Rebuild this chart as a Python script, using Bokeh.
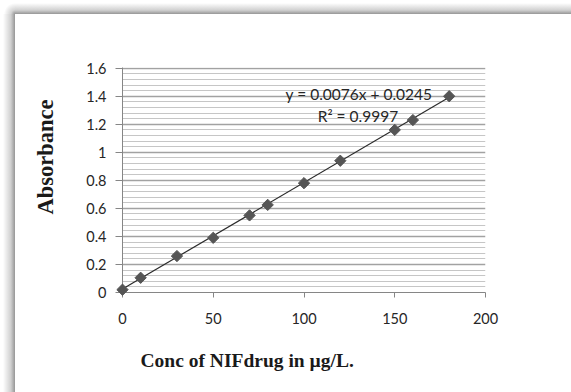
import numpy as np
from bokeh.plotting import figure
from bokeh.models import Range1d, FixedTicker, Label, Title
from bokeh.embed import file_html
from bokeh.resources import INLINE

# ---- data ----
conc = [0, 10, 30, 50, 70, 80, 100, 120, 150, 160, 180]
absorbance = [0.02, 0.105, 0.26, 0.39, 0.55, 0.625, 0.78, 0.94, 1.16, 1.23, 1.40]
slope = 0.0076
intercept = 0.0245
r_squared = 0.9997
x_ticks = [0, 50, 100, 150, 200]
y_ticks = [0, 0.2, 0.4, 0.6, 0.8, 1, 1.2, 1.4, 1.6]
y_tick_labels = ["0", "0.2", "0.4", "0.6", "0.8", "1", "1.2", "1.4", "1.6"]
y_minor_per_major = 5
x_label = "Conc of NIFdrug in  \u00b5g/L."
y_label = "Absorbance"
eq_text = "y = %.4fx + %.4f" % (slope, intercept)
r2_text = "R\u00b2 = %.4f" % r_squared

X0, X1 = x_ticks[0], x_ticks[-1]
Y0, Y1 = y_ticks[0], y_ticks[-1]

major_step = y_ticks[1] - y_ticks[0]
minor_vals = []
for i in range(len(y_ticks) - 1):
    for k in range(1, y_minor_per_major):
        minor_vals.append(round(y_ticks[i] + major_step * k / y_minor_per_major, 4))

p = figure(width=571, height=392, output_backend="svg", toolbar_location=None,
           x_range=Range1d(X0, X1), y_range=Range1d(Y0, Y1 + 0.005),
           min_border_left=122, min_border_right=86,
           min_border_top=67, min_border_bottom=100)
p.outline_line_color = None
p.background_fill_color = None
p.border_fill_color = None

# Excel-like chart-area frame with soft shadow (host element background)
shade = "rgba(140,140,140,0)"
dark = "rgb(150,150,150)"
p.styles = {
    "background-color": "white",
    "background-image": (
        "linear-gradient(to bottom, %s 0%%, rgba(170,170,170,0.55) 65%%, %s 100%%), "
        "linear-gradient(to right, %s 0%%, rgba(170,170,170,0.55) 65%%, %s 100%%), "
        "radial-gradient(circle at 100%% 100%%, %s 0px, rgba(170,170,170,0.5) 4px, %s 11px)"
    ) % (shade, dark, shade, dark, dark, shade),
    "background-position": "15px 3px, 3px 14px, 3px 3px",
    "background-size": "100% 11px, 12px 100%, 12px 11px",
    "background-repeat": "no-repeat",
}

p.xgrid.visible = False
p.yaxis.ticker = FixedTicker(ticks=y_ticks, minor_ticks=minor_vals)
p.xaxis.ticker = FixedTicker(ticks=x_ticks)
p.ygrid.grid_line_color = "#a2a2a2"
p.ygrid.grid_line_width = 1.3
p.ygrid.minor_grid_line_color = "#c6c6c6"
p.ygrid.minor_grid_line_width = 1

# trend line
tx = np.array([min(conc), max(conc)], dtype=float)
p.line(tx, slope * tx + intercept, line_color="#2b2b2b", line_width=1.2)

# data points
p.scatter(conc, absorbance, marker="square", angle=np.pi / 4, size=8,
          fill_color="#555555", line_color="#555555", line_width=1,
          level="overlay")

for ax in (p.xaxis[0], p.yaxis[0]):
    ax.axis_line_color = "#868686"
    ax.major_tick_line_color = "#868686"
    ax.minor_tick_line_color = None
    ax.major_tick_in = 0
    ax.major_label_text_font = "Lato"
    ax.major_label_text_font_size = "14.5px"
    ax.major_label_text_color = "#262626"

p.yaxis.major_label_overrides = dict(zip(y_ticks, y_tick_labels))
p.xaxis.major_tick_out = 5
p.yaxis.major_tick_out = 7
p.xaxis.major_label_standoff = 15
p.yaxis.major_label_standoff = 9

# axis titles
p.add_layout(Title(text=y_label, align="left", offset=78, standoff=52,
                   text_font="Liberation Serif", text_font_style="bold",
                   text_font_size="22.5px", text_color="#1a1a1a"), "left")
p.add_layout(Title(text=x_label, align="left", offset=18, standoff=42,
                   text_font="Liberation Serif", text_font_style="bold",
                   text_font_size="19.5px", text_color="#1a1a1a"), "below")

# trendline equation
p.add_layout(Label(x=130.3, y=1.418, text=eq_text, text_align="center",
                   text_baseline="middle", text_font="Lato",
                   text_font_size="15.5px", text_color="#262626"))
p.add_layout(Label(x=129.7, y=1.262, text=r2_text, text_align="center",
                   text_baseline="middle", text_font="Lato",
                   text_font_size="15.5px", text_color="#262626"))

open("out.html", "w").write(file_html(p, INLINE))
